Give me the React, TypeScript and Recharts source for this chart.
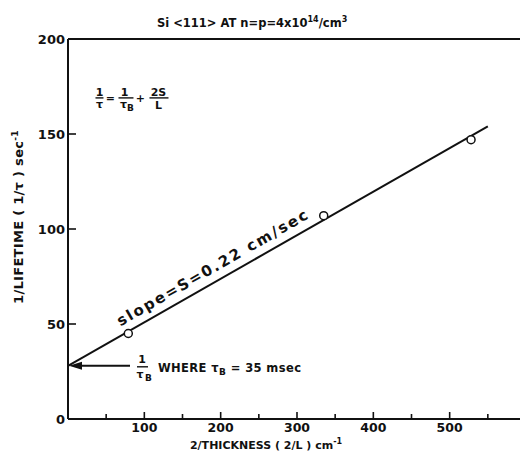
import {
  ComposedChart,
  Line,
  ReferenceDot,
  Scatter,
  XAxis,
  YAxis,
} from "recharts";

// measured points (2/L in cm^-1, 1/tau in sec^-1)
const pointX = [79, 335, 528];
const pointY = [45, 107, 147];

// straight line fitted through them
const fitX = [0, 550];
const fitY = [28, 154];

const xTicks = [50, 100, 150, 200, 250, 300, 350, 400, 450, 500, 550];
const xLabels = [100, 200, 300, 400, 500];
const yTicks = [0, 50, 100, 150, 200];

const FONT = "'DejaVu Sans', sans-serif";
const INK = "#111";

const points = pointX.map((x, i) => ({ x, y: pointY[i] }));
const fit = fitX.map((x, i) => ({ x, y: fitY[i] }));

function BottomTick(props: any) {
  const { x, y, payload } = props;
  const major = payload.value % 100 === 0;
  return (
    <g>
      <line x1={x} x2={x} y1={y} y2={y - (major ? 7 : 5)} stroke={INK} strokeWidth={1.6} />
      {xLabels.includes(payload.value) && (
        <text x={x} y={y + 13} textAnchor="middle" fontSize={12.5} fontWeight="bold" fontFamily={FONT} fill={INK}>
          {payload.value}
        </text>
      )}
    </g>
  );
}

function TopTick(props: any) {
  const { x, y } = props;
  return <line x1={x} x2={x} y1={y} y2={y + 6} stroke={INK} strokeWidth={1.6} />;
}

function LeftTick(props: any) {
  const { x, y, payload } = props;
  const v = payload.value;
  return (
    <g>
      {v !== 0 && v !== 200 && <line x1={x} x2={x + 8} y1={y} y2={y} stroke={INK} strokeWidth={1.6} />}
      <text x={x - 3} y={y + 5} textAnchor="end" fontSize={13} fontWeight="bold" fontFamily={FONT} fill={INK}>
        {v}
      </text>
    </g>
  );
}

function Circle(props: any) {
  return <circle cx={props.cx} cy={props.cy} r={4} fill="#fff" stroke={INK} strokeWidth={1.5} />;
}

function Formula(props: any) {
  const { cx, cy } = props;
  const t = { fontSize: 11, fontWeight: "bold", fontFamily: FONT, fill: INK, textAnchor: "middle" as const };
  return (
    <g>
      <text {...t} x={cx + 4} y={cy - 2}>1</text>
      <line x1={cx} x2={cx + 8} y1={cy} y2={cy} stroke={INK} strokeWidth={1.4} />
      <text {...t} x={cx + 4} y={cy + 10}>τ</text>
      <text {...t} x={cx + 15} y={cy + 4}>=</text>
      <text {...t} x={cx + 29} y={cy - 2}>1</text>
      <line x1={cx + 23} x2={cx + 38} y1={cy} y2={cy} stroke={INK} strokeWidth={1.4} />
      <text {...t} x={cx + 28} y={cy + 10}>τ</text>
      <text {...t} fontSize={9} x={cx + 35} y={cy + 13}>B</text>
      <text {...t} x={cx + 45} y={cy + 4}>+</text>
      <text {...t} x={cx + 63} y={cy - 2}>2S</text>
      <line x1={cx + 54} x2={cx + 73} y1={cy} y2={cy} stroke={INK} strokeWidth={1.4} />
      <text {...t} x={cx + 63} y={cy + 11}>L</text>
    </g>
  );
}

function SlopeNote(props: any) {
  const { cx, cy } = props;
  return (
    <text
      x={cx}
      y={cy - 8}
      transform={`rotate(-29.9 ${cx} ${cy})`}
      fontSize={15}
      letterSpacing={2}
      fontWeight="bold"
      fontFamily={FONT}
      fill={INK}
    >
      slope=S=0.22 cm/sec
    </text>
  );
}

function InterceptNote(props: any) {
  const { cx, cy } = props;
  const t = { fontWeight: "bold", fontFamily: FONT, fill: INK };
  return (
    <g>
      <line x1={cx + 8} x2={cx + 62} y1={cy} y2={cy} stroke={INK} strokeWidth={2} />
      <polygon points={`${cx + 1},${cy} ${cx + 14},${cy - 4} ${cx + 14},${cy + 4}`} fill={INK} />
      <text {...t} fontSize={11} x={cx + 74} y={cy - 3} textAnchor="middle">1</text>
      <line x1={cx + 69} x2={cx + 80} y1={cy + 1} y2={cy + 1} stroke={INK} strokeWidth={1.4} />
      <text {...t} fontSize={11} x={cx + 72} y={cy + 12} textAnchor="middle">τ</text>
      <text {...t} fontSize={9} x={cx + 77} y={cy + 15}>B</text>
      <text {...t} fontSize={11.5} letterSpacing={0.4} x={cx + 90} y={cy + 6}>
        WHERE  τ<tspan fontSize={9} dy={3}>B</tspan><tspan dy={-3}> = 35 msec</tspan>
      </text>
    </g>
  );
}

export default function App() {
  return (
    <div style={{ position: "absolute", left: 0, top: 0, width: 520, height: 464, overflow: "hidden", background: "#fff" }}>
      <ComposedChart width={526} height={464} margin={{ top: 38, right: 0, bottom: 0, left: 0 }}>
        <XAxis
          xAxisId="top"
          orientation="top"
          dataKey="x"
          type="number"
          domain={[0, 600]}
          ticks={xTicks}
          interval={0}
          height={1}
          tickSize={0}
          tickMargin={0}
          tickLine={false}
          tick={<TopTick />}
          axisLine={{ stroke: INK, strokeWidth: 2 }}
        />
        <XAxis
          dataKey="x"
          type="number"
          domain={[0, 600]}
          ticks={xTicks}
          interval={0}
          height={45}
          tickSize={0}
          tickMargin={0}
          tickLine={false}
          tick={<BottomTick />}
          axisLine={{ stroke: INK, strokeWidth: 2 }}
        />
        <YAxis
          type="number"
          domain={[0, 200]}
          ticks={yTicks}
          interval={0}
          width={68}
          tickSize={0}
          tickMargin={0}
          tickLine={false}
          tick={<LeftTick />}
          axisLine={{ stroke: INK, strokeWidth: 2 }}
        />
        <Line data={fit} dataKey="y" stroke={INK} strokeWidth={2} dot={false} isAnimationActive={false} />
        <Scatter data={points} dataKey="y" shape={<Circle />} isAnimationActive={false} />
        <ReferenceDot x={36} y={169} shape={<Formula />} />
        <ReferenceDot x={74} y={45} shape={<SlopeNote />} />
        <ReferenceDot x={0} y={28} shape={<InterceptNote />} ifOverflow="visible" />
      </ComposedChart>
      <svg width={520} height={464} style={{ position: "absolute", left: 0, top: 0, pointerEvents: "none" }}>
        <text x={157} y={27} fontSize={11.5} fontWeight="bold" fontFamily={FONT} fill={INK}>
          Si &lt;111&gt; AT n=p=4x10<tspan fontSize={8} dy={-5}>14</tspan>
          <tspan dy={5}>/cm</tspan><tspan fontSize={8} dy={-5}>3</tspan>
        </text>
        <text x={266} y={449} textAnchor="middle" fontSize={11} fontWeight="bold" fontFamily={FONT} fill={INK}>
          2/THICKNESS ( 2/L ) cm<tspan fontSize={8} dy={-5}>-1</tspan>
        </text>
        <text
          transform="translate(23 217) rotate(-90)"
          textAnchor="middle"
          fontSize={13}
          letterSpacing={0.3}
          fontWeight="bold"
          fontFamily={FONT}
          fill={INK}
        >
          1/LIFETIME ( 1/τ ) sec<tspan fontSize={9} dy={-5}>-1</tspan>
        </text>
      </svg>
    </div>
  );
}
